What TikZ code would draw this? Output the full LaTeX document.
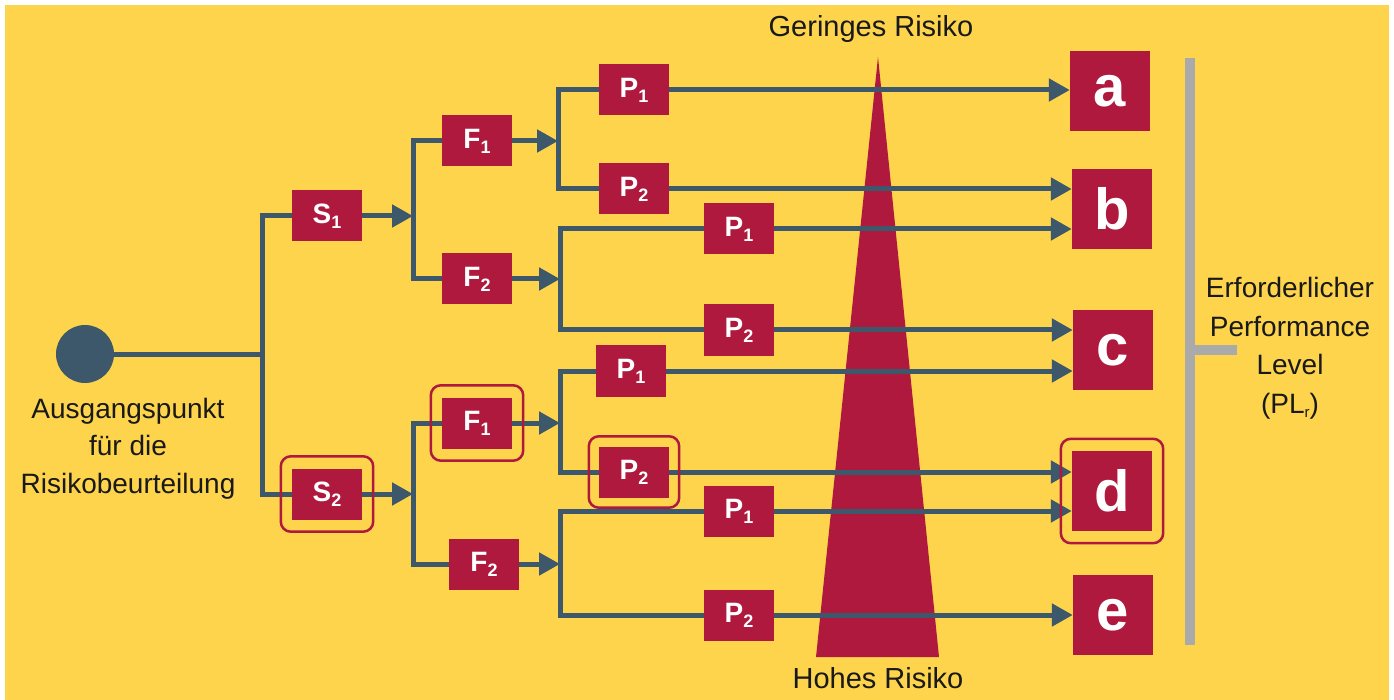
\documentclass[tikz,border=0pt]{standalone}
\usepackage{fontspec}
\setmainfont{Liberation Sans}
\usetikzlibrary{arrows.meta,fit}

\definecolor{bgyellow}{RGB}{253,212,76}
\definecolor{crimson}{RGB}{175,25,62}
\definecolor{slate}{RGB}{60,88,106}
\definecolor{bargray}{RGB}{170,170,170}
\definecolor{ink}{RGB}{25,25,25}

% lowered index digit inside the small decision boxes
\newcommand{\lowidx}[1]{\raisebox{-5pt}{\fontsize{18}{18}\selectfont #1}}

\tikzset{
  stepbox/.style={fill=crimson, minimum width=70pt, minimum height=51pt, inner sep=0pt,
    text=white, font=\fontsize{28}{28}\selectfont\bfseries},
  levelbox/.style={fill=crimson, minimum width=80pt, minimum height=80pt, inner sep=0pt,
    text=white, font=\fontsize{58}{58}\selectfont\bfseries},
  conn/.style={draw=slate, line width=5pt},
  arr/.style={conn, -{Triangle[length=21pt,width=22pt]}},
  hilite/.style={draw=crimson, line width=2.5pt, rounded corners=10pt,
    inner xsep=11pt, inner ysep=12pt},
  caption/.style={text=ink, inner sep=0pt, align=center},
}

\begin{document}
\begin{tikzpicture}[x=1pt,y=-1pt]
  % page and coloured panel
  \useasboundingbox (0,0) rectangle (1394,700);
  \fill[white] (0,0) rectangle (1394,700);
  \fill[bgyellow] (5,5) rectangle (1389,700);

  % risk wedge: narrow at low risk, wide at high risk
  \fill[crimson] (878,57) -- (816,657) -- (939,657) -- cycle;
  \node[caption, anchor=base, font=\fontsize{29}{29}\selectfont] (low) at (871,37) {Geringes Risiko};
  \node[caption, anchor=base, font=\fontsize{29}{29}\selectfont] (high) at (878,688) {Hohes Risiko};

  % starting point
  \node[circle, fill=slate, minimum size=58pt, inner sep=0pt] (start) at (85,354) {};
  \node[caption, anchor=north, font=\fontsize{28}{37.5}\selectfont] (starttext) at (128,397.6)
    {Ausgangspunkt\\für die\\Risikobeurteilung};

  % decision boxes
  \node[stepbox] (S1) at (327,216) {S\lowidx{1}};
  \node[stepbox] (S2) at (327,494) {S\lowidx{2}};
  \node[stepbox] (F1a) at (477,141) {F\lowidx{1}};
  \node[stepbox] (F2a) at (477,279) {F\lowidx{2}};
  \node[stepbox] (F1b) at (477,423) {F\lowidx{1}};
  \node[stepbox] (F2b) at (484,564) {F\lowidx{2}};
  \node[stepbox] (P1a) at (634,90)  {P\lowidx{1}};
  \node[stepbox] (P2a) at (634,189) {P\lowidx{2}};
  \node[stepbox] (P1b) at (739,229) {P\lowidx{1}};
  \node[stepbox] (P2b) at (739,330) {P\lowidx{2}};
  \node[stepbox] (P1c) at (631,371) {P\lowidx{1}};
  \node[stepbox] (P2c) at (634,472) {P\lowidx{2}};
  \node[stepbox] (P1d) at (739,511) {P\lowidx{1}};
  \node[stepbox] (P2d) at (739,615) {P\lowidx{2}};

  % required performance levels
  \node[levelbox] (La) at (1110,91)  {a};
  \node[levelbox] (Lb) at (1112,209) {b};
  \node[levelbox] (Lc) at (1113,350) {c};
  \node[levelbox] (Ld) at (1112,491) {d};
  \node[levelbox] (Le) at (1113,615) {e};

  % branch points
  \coordinate (tr)  at (262,354);
  \coordinate (jS1) at (413,216);
  \coordinate (jS2) at (413,494);
  \coordinate (jF1a) at (558,141);
  \coordinate (jF2a) at (560,279);
  \coordinate (jF1b) at (560,423);
  \coordinate (jF2b) at (560,564);

  % tree connectors
  \draw[conn] (start.east) -- (tr);
  \draw[conn] (S1.west) -| (tr) |- (S2.west);
  \draw[arr] (S1.east) -- (jS1);
  \draw[arr] (S2.east) -- (jS2);
  \draw[conn] (F1a.west) -| (jS1) |- (F2a.west);
  \draw[conn] (F1b.west) -| (jS2) |- (F2b.west);
  \draw[arr] (F1a.east) -- (jF1a);
  \draw[arr] (F2a.east) -- (jF2a);
  \draw[arr] (F1b.east) -- (jF1b);
  \draw[arr] (F2b.east) -- (jF2b);
  \draw[conn] (P1a.west) -| (jF1a) |- (P2a.west);
  \draw[conn] (P1b.west) -| (jF2a) |- (P2b.west);
  \draw[conn] (P1c.west) -| (jF1b) |- (P2c.west);
  \draw[conn] (P1d.west) -| (jF2b) |- (P2d.west);

  % arrows to the performance levels
  \draw[arr] (P1a.east) -- (P1a.east -| La.west);
  \draw[arr] (P2a.east) -- (P2a.east -| Lb.west);
  \draw[arr] (P1b.east) -- (P1b.east -| Lb.west);
  \draw[arr] (P2b.east) -- (P2b.east -| Lc.west);
  \draw[arr] (P1c.east) -- (P1c.east -| Lc.west);
  \draw[arr] (P2c.east) -- (P2c.east -| Ld.west);
  \draw[arr] (P1d.east) -- (P1d.east -| Ld.west);
  \draw[arr] (P2d.east) -- (P2d.east -| Le.west);

  % highlighted path
  \node[hilite, fit=(S2)] (hS2) {};
  \node[hilite, fit=(F1b)] (hF1b) {};
  \node[hilite, fit=(P2c), inner xsep=10pt, inner ysep=10pt] (hP2c) {};
  \node[hilite, fit=(Ld)] (hLd) {};

  % bracket grouping the levels
  \coordinate (bartop) at (1190,58);
  \coordinate (barbot) at (1190,645);
  \coordinate (barmid) at (1190,350);
  \draw[bargray, line width=10pt] (bartop) -- (barbot);
  \draw[bargray, line width=9pt] (barmid) -- ++(47,0);
  \node[caption, anchor=north, font=\fontsize{28}{38.5}\selectfont] (pltext) at (1290,277.5)
    {Erforderlicher\\Performance\\Level\\(PL\raisebox{-4pt}{\fontsize{15}{15}\selectfont r})};
\end{tikzpicture}
\end{document}
